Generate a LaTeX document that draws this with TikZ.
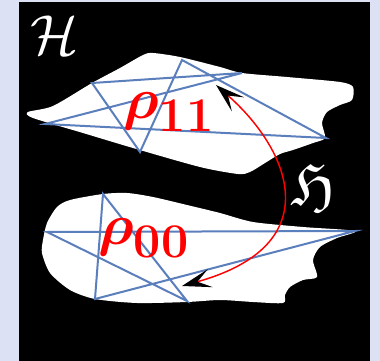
\documentclass[tikz,border=0pt]{standalone}
\usepackage{amsmath,amssymb}
\usetikzlibrary{arrows.meta}
\definecolor{cframe}{HTML}{DCE2F3}
\definecolor{cstar}{HTML}{5B7EBC}
\definecolor{cred}{HTML}{FF0000}
\tikzset{
  every picture/.style={x=0.75pt, y=-0.75pt},
  chev/.tip={Stealth[length=22pt, width=14pt, inset=10pt, color=black, fill=black]},
  blob/.style={fill=white, draw=none},
  star/.style={draw=cstar, line width=1.5pt, line join=miter},
  space/.style={text=white, inner sep=0pt},
  rho/.style={text=cred, inner sep=0pt},
  link/.style={draw=cred, line width=1.1pt, chev-chev},
}

\begin{document}
\begin{tikzpicture}
  \fill[cframe] (0,0) rectangle (380,361);
  \fill[black] (19,2) rectangle (370,361);
  \useasboundingbox (0,0) rectangle (380,361);
  % upper state
  \fill[blob] plot[smooth cycle, tension=0.45] coordinates {
    (28,112) (53,106) (92,83) (120,68) (143,55) (153,53) (180,57) (220,67) (242,73)
    (287,77) (340,82) (353,87) (352,100) (340,105) (327,112) (322,123) (325,138)
    (313,143) (293,150) (280,154) (265,163) (250,172) (238,174) (200,167) (133,148)
    (83,133) (33,118)};
  \coordinate (a1) at (92,83);
  \coordinate (a2) at (242,73);
  \coordinate (a3) at (45,124);
  \coordinate (a4) at (326,138);
  \coordinate (a5) at (182,60);
  \coordinate (a6) at (140,152);
  \draw[star] (a1) -- (a2) -- (a3) -- (a4) -- (a5) -- (a6) -- cycle;
  % lower state
  \fill[blob] plot[smooth cycle, tension=0.45] coordinates {
    (57,207) (70,200) (103,194) (127,193) (153,197) (187,205) (220,213) (253,222)
    (303,227) (355,231) (337,238) (320,247) (313,260) (317,277) (303,280) (290,287)
    (285,295) (283,303) (253,302) (220,300) (187,302) (137,303) (95,299) (70,290)
    (50,273) (42,253) (43,240) (47,223)};
  \coordinate (b1) at (47,232);
  \coordinate (b2) at (355,231);
  \coordinate (b3) at (95,299);
  \coordinate (b4) at (103,194);
  \coordinate (b5) at (187,301);
  \draw[star] (b1) -- (b2) -- (b3) -- (b4) -- (b5) -- cycle;
  % labels
  \node[space] (hilb) at (55,35) {\scalebox{1.7}{\Huge$\mathcal{H}$}};
  \node[space] (frak) at (314,186) {\scalebox{1.85}{\Huge$\mathfrak{H}$}};
  \node[rho] (r11) at (169,112) {\scalebox{1.75}{\Huge$\boldsymbol{\rho}_{\mathbf{11}}$}};
  \node[rho] (r00) at (144,238) {\scalebox{1.75}{\Huge$\boldsymbol{\rho}_{\mathbf{00}}$}};
  % transition
  \coordinate (t11) at (216,85);
  \coordinate (t00) at (182,286);
  \draw[link] (t11) .. controls (290,150) and (330,245) .. (t00);
\end{tikzpicture}
\end{document}
